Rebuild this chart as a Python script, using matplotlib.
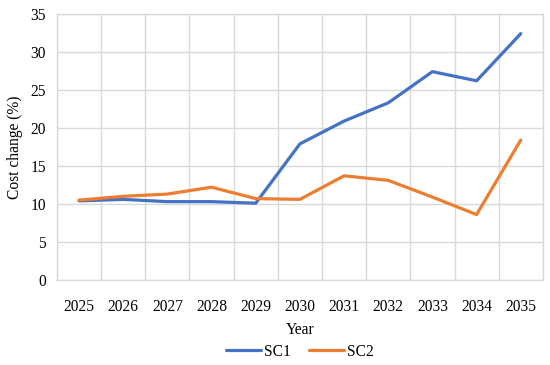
import numpy as np
import matplotlib.pyplot as plt

years = ["2025", "2026", "2027", "2028", "2029", "2030",
         "2031", "2032", "2033", "2034", "2035"]
sc1 = [10.4, 10.6, 10.3, 10.3, 10.1, 17.9, 20.9, 23.3, 27.4, 26.2, 32.4]
sc2 = [10.5, 11.0, 11.3, 12.2, 10.7, 10.6, 13.7, 13.1, 10.9, 8.6, 18.4]

plt.rcParams["font.family"] = ["Liberation Serif", "DejaVu Serif"]
plt.rcParams["font.size"] = 11.2

fig = plt.figure(figsize=(5.5, 3.65), dpi=100)
ax = fig.add_axes([0.1036, 0.233, 0.8834, 0.729])

x = np.arange(len(years))
ax.plot(x, sc1, color="#4472C4", lw=2.3, label="SC1", solid_capstyle="round")
ax.plot(x, sc2, color="#ED7D31", lw=2.3, label="SC2", solid_capstyle="round")

ax.set_xlim(-0.5, len(years) - 0.5)
ax.set_ylim(0, 35)
ax.set_yticks(range(0, 36, 5))
ax.set_xticks(x)
ax.set_xticklabels(years)
ax.set_xticks(np.arange(-0.5, len(years)), minor=True)
ax.tick_params(axis="both", which="both", length=0)
ax.tick_params(axis="x", pad=14)
ax.tick_params(axis="y", pad=8)

grid_c = "#d9d9d9"
ax.grid(axis="y", color=grid_c, lw=1)
ax.grid(axis="x", which="minor", color=grid_c, lw=1)
ax.grid(axis="x", which="major", visible=False)
ax.set_axisbelow(True)
for s in ax.spines.values():
    s.set_color(grid_c)
    s.set_linewidth(1)

ax.set_xlabel("Year", labelpad=5)
ax.set_ylabel("Cost change (%)", labelpad=5)

ax.legend(loc="center", bbox_to_anchor=(0.5, -0.27), ncol=2,
          frameon=False, handlelength=2.2, handletextpad=0.2, columnspacing=1.2)

fig.savefig("out.png", dpi=100)
